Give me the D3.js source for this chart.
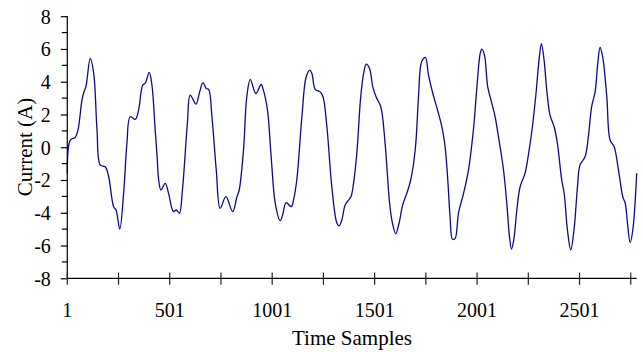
<!DOCTYPE html>
<html>
<head>
<meta charset="utf-8">
<script src="https://cdn.jsdelivr.net/npm/d3@7"></script>
<style>
  html, body { margin: 0; padding: 0; background: #fff; }
  svg { display: block; }
  text { font-family: "Liberation Serif", "Times New Roman", serif; fill: #000; }
</style>
</head>
<body>
<svg id="chart" width="643" height="352"></svg>
<script>
// Sample index (time samples)
const samples = [1,16,40,53,73,83,92,113,130,146,162,186,203,227,239,257,276,292,308,333,349,369,381,401,414,430,439,447,458,479,495,519,533,548,563,587,601,629,647,663,679,691,707,728,747,775,808,829,840,861,877,894,921,947,958,978,996,1016,1040,1052,1069,1094,1105,1121,1146,1167,1185,1195,1211,1235,1249,1268,1292,1317,1328,1341,1357,1374,1386,1398,1414,1433,1447,1460,1476,1492,1508,1531,1552,1574,1588,1604,1620,1638,1658,1677,1699,1715,1726,1736,1749,1764,1785,1808,1830,1845,1858,1869,1881,1894,1910,1935,1959,1983,1999,2016,2024,2037,2053,2073,2089,2108,2130,2146,2159,2169,2180,2195,2211,2235,2255,2271,2287,2305,2315,2328,2341,2357,2377,2393,2414,2426,2442,2458,2474,2491,2503,2528,2544,2560,2577,2590,2601,2614,2634,2650,2670,2691,2712,2724,2735,2748,2761,2780];
// Current (A)
const current = [-1.6,0.44,0.6,1.05,2.9,3.4,3.7,5.42,4.5,1.05,-1.09,-1.19,-1.8,-3.63,-3.83,-5.0,-2.8,0.24,1.86,1.7,2.27,3.79,3.9,4.57,3.8,1.05,-0.5,-2.0,-2.61,-2.2,-2.8,-3.93,-3.83,-4.03,-2.6,1.46,3.18,2.63,3.38,3.95,3.59,3.53,1.86,-1.39,-3.73,-3.02,-3.93,-3.02,-2.61,-0.17,3.08,4.14,3.28,3.83,3.49,2.27,-0.58,-3.42,-4.48,-4.13,-3.38,-3.63,-3.22,-2.0,1.86,4.3,4.71,4.5,3.53,3.38,3.08,1.25,-2.41,-4.64,-4.8,-4.44,-3.52,-3.22,-3.0,-2.2,-0.37,3.08,4.5,5.07,4.81,3.69,3.08,2.47,0.24,-3.42,-4.64,-5.29,-4.64,-3.52,-2.81,-2.0,-0.17,3.08,5.01,5.36,5.48,4.4,3.28,2.27,1.2,0.03,-2.0,-4.24,-5.62,-5.56,-4.03,-2.81,-1.39,1.05,3.49,5.72,5.99,5.62,3.69,2.68,1.86,0.44,-1.39,-3.42,-5.46,-6.21,-5.66,-3.83,-2.41,-1.59,-0.17,1.25,3.08,5.52,6.33,5.32,3.49,1.96,1.25,0.24,-2.0,-2.81,-5.05,-6.27,-5.05,-2.41,-1.09,-0.58,0.64,2.47,3.38,5.12,6.09,5.52,3.08,0.44,0.03,-1.39,-3.02,-3.42,-4.64,-5.82,-5.05,-1.59];

const xTicks = [1,251,501,751,1001,1251,1501,1751,2001,2251,2501,2751];
const xTickLabels = [1,501,1001,1501,2001,2501];
const yTicksMajor = [-8,-6,-4,-2,0,2,4,6,8];
const yTicksMinor = [-7,-5,-3,-1,1,3,5,7];

const svg = d3.select("#chart");
const x = d3.scaleLinear().domain([1, 2780]).range([67.3, 636.7]);
const y = d3.scaleLinear().domain([-8, 8]).range([278.3, 16.2]);

const data = samples.map((s, i) => ({ s, v: current[i] }));

// data line
const line = d3.line()
  .x(d => x(d.s))
  .y(d => y(d.v))
  .curve(d3.curveCatmullRom.alpha(0.5));
svg.append("path")
  .datum(data)
  .attr("d", line)
  .attr("fill", "none")
  .attr("stroke", "#0a0a8a")
  .attr("stroke-width", 1.3);

// Y axis
const gy = svg.append("g").attr("transform", `translate(${x.range()[0]},0)`);
gy.call(d3.axisLeft(y).tickValues(yTicksMajor).tickSize(6.5).tickPadding(10).tickFormat(d => String(d)));
gy.append("g").selectAll("line").data(yTicksMinor).join("line")
  .attr("x1", -5.5).attr("x2", 0)
  .attr("y1", d => y(d)).attr("y2", d => y(d))
  .attr("stroke", "#000");
gy.select(".domain").attr("d", `M0,${y.range()[1]}V${y.range()[0]}`);
gy.selectAll("text").style("font-family", '"Liberation Serif", serif').attr("font-size", 20).attr("dy", "0.34em");
gy.selectAll("line, path").attr("stroke", "#000").attr("stroke-width", 1.2);

// X axis (ticks crossing the axis)
const gx = svg.append("g").attr("transform", `translate(0,${y.range()[0]})`);
gx.append("line")
  .attr("x1", x.range()[0]).attr("x2", x.range()[1])
  .attr("y1", 0).attr("y2", 0)
  .attr("stroke", "#000").attr("stroke-width", 1.3);
gx.selectAll("line.tick").data(xTicks).join("line")
  .attr("class", "tick")
  .attr("x1", d => x(d)).attr("x2", d => x(d))
  .attr("y1", -5.8).attr("y2", 6.5)
  .attr("stroke", "#222").attr("stroke-width", 1.2);
gx.selectAll("text").data(xTickLabels).join("text")
  .attr("x", d => x(d))
  .attr("y", 39)
  .attr("text-anchor", "middle")
  .attr("font-size", 20)
  .text(d => d);

// Axis titles
svg.append("text")
  .attr("x", 352).attr("y", 345)
  .attr("text-anchor", "middle")
  .attr("font-size", 21)
  .text("Time Samples");
svg.append("text")
  .attr("transform", "translate(31.5,147) rotate(-90)")
  .attr("text-anchor", "middle")
  .attr("font-size", 21)
  .text("Current (A)");
</script>
</body>
</html>
